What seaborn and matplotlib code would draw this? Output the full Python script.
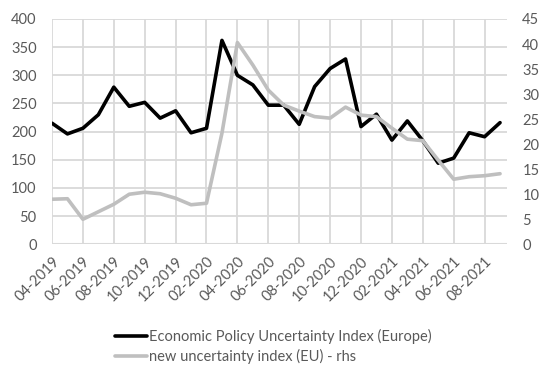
import matplotlib
matplotlib.use("Agg")
import matplotlib.pyplot as plt
import seaborn as sns
import pandas as pd
import numpy as np

# Monthly observations, 04-2019 .. 09-2021
months = pd.date_range("2019-04-01", periods=30, freq="MS").strftime("%m-%Y").tolist()

epu_europe = [215, 196, 206, 230, 279, 245, 252, 224, 237, 198, 206, 362, 300, 283, 247,
              247, 213, 280, 312, 329, 209, 231, 185, 219, 184, 144, 153, 198, 191, 216]

new_index_eu = [9.0, 9.1, 5.0, 6.5, 8.0, 10.0, 10.4, 10.1, 9.2, 7.9, 8.2, 22.2, 40.3, 35.8, 30.8,
                27.8, 26.6, 25.5, 25.2, 27.4, 25.8, 25.5, 23.2, 21.0, 20.7, 16.8, 13.0, 13.5, 13.7, 14.1]

label_epu = "Economic Policy Uncertainty Index (Europe)"
label_new = "new uncertainty index (EU) - rhs"

df = pd.DataFrame({"month": months, "pos": np.arange(len(months)),
                   "epu": epu_europe, "new": new_index_eu})

sns.set_style("white")
plt.rcParams["font.family"] = ["Lato", "DejaVu Sans"]

text_col = "#595959"
grid_col = "#d9d9d9"

fig = plt.figure(figsize=(5.42, 3.69), dpi=100)
ax = fig.add_axes([52 / 542, 1 - 244.3 / 369, (507 - 52) / 542, (244.3 - 19) / 369])
ax2 = ax.twinx()

sns.lineplot(data=df, x="pos", y="epu", ax=ax, color="black", linewidth=2.6,
             label=label_epu, legend=False)
sns.lineplot(data=df, x="pos", y="new", ax=ax2, color="#bfbfbf", linewidth=2.6,
             label=label_new, legend=False)

ax.set_xlim(0, 29.45)
ax.set_ylim(0, 400)
ax2.set_ylim(0, 45)
ax.set_yticks(np.arange(0, 401, 50))
ax2.set_yticks(np.arange(0, 46, 5))

tick_pos = df["pos"][::2]
ax.set_xticks(tick_pos)
ax.set_xticklabels(df["month"][::2], rotation=45, ha="right", rotation_mode="anchor")

ax.grid(True, color=grid_col, linewidth=1.3)
ax.set_axisbelow(True)
ax2.grid(False)

for a in (ax, ax2):
    for s in ("top", "left", "right", "bottom"):
        a.spines[s].set_visible(False)
    a.set_xlabel("")
    a.set_ylabel("")
    a.tick_params(length=0, labelsize=10.5, colors=text_col)

ax.tick_params(axis="y", pad=11)
ax2.tick_params(axis="y", pad=11)
ax.tick_params(axis="x", pad=7)
ax.axhline(0, color=grid_col, linewidth=1.5, zorder=1)

handles = [ax.get_lines()[0], ax2.get_lines()[0]]
fig.legend(handles, [label_epu, label_new], loc="upper left",
           bbox_to_anchor=(109 / 542, 1 - 323 / 369), frameon=False,
           fontsize=10.5, labelcolor=text_col, handlelength=2.2,
           handletextpad=0.15, labelspacing=0.38, borderaxespad=0)

fig.savefig("out.png", dpi=100)
